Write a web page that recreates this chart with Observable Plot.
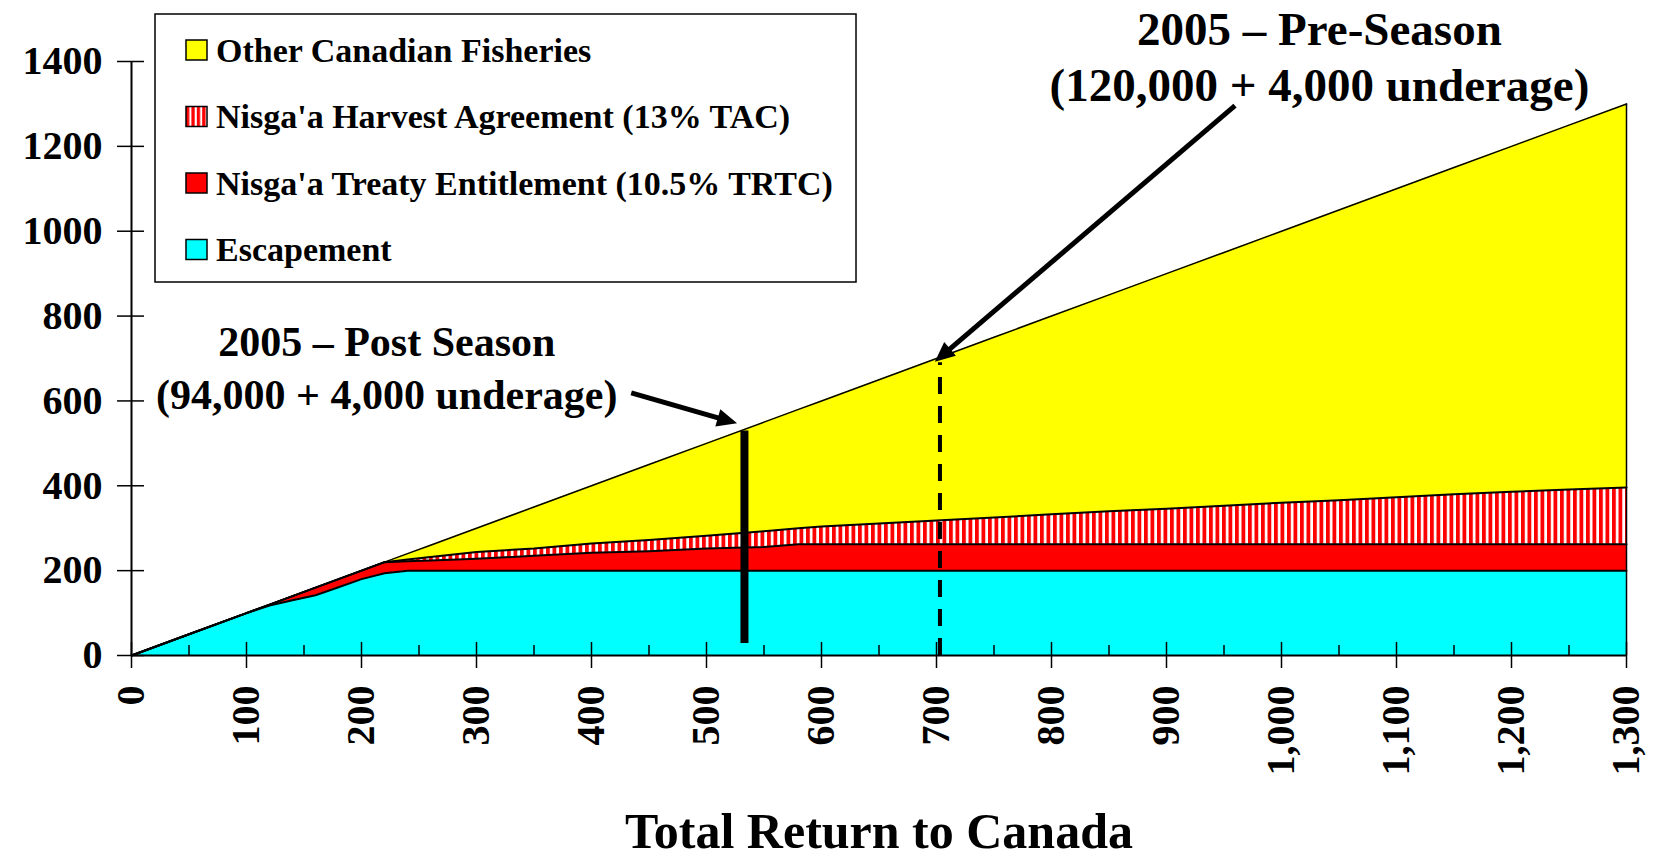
<!DOCTYPE html>
<html>
<head>
<meta charset="utf-8">
<script src="https://cdn.jsdelivr.net/npm/d3@7"></script>
<script src="https://cdn.jsdelivr.net/npm/@observablehq/plot@0.6"></script>
<style>
  html, body { margin: 0; padding: 0; background: #fff; }
  #chart svg { display: block; }
</style>
</head>
<body>
<div id="chart"></div>
<script>
// ---- Data (thousands of fish) ----
const totalReturn = [0, 50, 100, 120, 140, 160, 180, 200, 220, 240, 260, 300, 350, 400, 450, 500, 550, 580, 600, 650, 700, 750, 800, 850, 900, 950, 1000, 1050, 1100, 1150, 1200, 1250, 1300];
const escapement = [0, 50, 100, 118, 130, 142, 161, 180, 194, 200, 200, 200, 200, 200, 200, 200, 200, 200, 200, 200, 200, 200, 200, 200, 200, 200, 200, 200, 200, 200, 200, 200, 200];
const treatyEntitlement = [0, 0, 0, 2, 10, 18, 19, 20, 26, 22, 24, 28, 35, 42, 46, 52, 56, 62, 62, 62, 62, 62, 62, 62, 62, 62, 62, 62, 62, 62, 62, 62, 62];
const harvestAgreement = [0, 0, 0, 0, 0, 0, 0, 0, 0, 4, 8, 16, 17, 22, 26, 30, 37, 38, 42, 49, 56, 63, 71, 78, 84, 91, 98, 104, 111, 118, 124, 129, 134];
const otherFisheries = [0, 0, 0, 0, 0, 0, 0, 0, 0, 14, 28, 56, 98, 136, 178, 218, 257, 280, 296, 339, 382, 425, 467, 510, 554, 597, 640, 684, 727, 770, 814, 859, 904];

const seriesNames = ["Other Canadian Fisheries", "Nisga'a Harvest Agreement (13% TAC)", "Nisga'a Treaty Entitlement (10.5% TRTC)", "Escapement"];
const seriesFills = ["#ffff00", "url(#legendStripes)", "#ff0000", "#00ffff"];

const xTicks = [0, 100, 200, 300, 400, 500, 600, 700, 800, 900, 1000, 1100, 1200, 1300];
const xMinorTicks = [50, 150, 250, 350, 450, 550, 650, 750, 850, 950, 1050, 1150, 1250];
const yTicks = [0, 200, 400, 600, 800, 1000, 1200, 1400];

const postSeasonReturn = 533;   // solid marker
const preSeasonReturn = 703;    // dashed marker
const postSeasonLabel = ["2005 – Post Season", "(94,000 + 4,000 underage)"];
const preSeasonLabel = ["2005 – Pre-Season", "(120,000 + 4,000 underage)"];
const axisTitle = "Total Return to Canada";

// ---- Build stacked table ----
const rows = totalReturn.map((x, i) => {
  const e = escapement[i];
  const t = e + treatyEntitlement[i];
  const h = t + harvestAgreement[i];
  const o = h + otherFisheries[i];
  return {x, e, t, h, o};
});

const W = 1658, H = 858, mL = 131, mR = 32, mT = 61, mB = 203;
const fw = W - mL - mR, fh = H - mT - mB;
const FONT = "'Liberation Serif', 'Times New Roman', serif";

const plot = Plot.plot({
  width: W, height: H,
  marginLeft: mL, marginRight: mR, marginTop: mT, marginBottom: mB,
  x: {domain: [0, 1300]},
  y: {domain: [0, 1400]},
  style: {fontFamily: FONT, fontWeight: "bold", color: "#000", background: "#fff", overflow: "visible"},
  marks: [
    Plot.areaY(rows, {x: "x", y1: 0, y2: "e", fill: "#00ffff"}),
    Plot.areaY(rows, {x: "x", y1: "e", y2: "t", fill: "#ff0000"}),
    Plot.areaY(rows, {x: "x", y1: "t", y2: "h", fill: "url(#nisgaStripes)"}),
    Plot.areaY(rows, {x: "x", y1: "h", y2: "o", fill: "#ffff00"}),
    Plot.line(rows, {x: "x", y: "e", stroke: "#000", strokeWidth: 2}),
    Plot.line(rows, {x: "x", y: "t", stroke: "#000", strokeWidth: 2}),
    Plot.line(rows, {x: "x", y: "h", stroke: "#000", strokeWidth: 2}),
    Plot.line(rows, {x: "x", y: "o", stroke: "#000", strokeWidth: 1.5}),
    Plot.ruleX([rows[rows.length - 1]], {x: "x", y1: 0, y2: "o", stroke: "#000", strokeWidth: 1.5}),
    // axis lines
    Plot.ruleY([0], {stroke: "#000", strokeWidth: 2}),
    Plot.ruleX([0], {stroke: "#000", strokeWidth: 2}),
    // crossing ticks
    Plot.tickX(xTicks, {x: d => d, insetTop: fh - 13, insetBottom: -13, stroke: "#000", strokeWidth: 1.5}),
    Plot.tickX(xMinorTicks, {x: d => d, insetTop: fh - 10, insetBottom: 0, stroke: "#000", strokeWidth: 1.5}),
    Plot.tickY(yTicks, {y: d => d, insetLeft: -14, insetRight: fw - 13, stroke: "#000", strokeWidth: 1.5}),
    // tick labels
    Plot.axisY({ticks: yTicks, tickSize: 0, tickPadding: 29, fontSize: 40, label: null, tickFormat: d => String(d)}),
    Plot.axisX({ticks: xTicks, tickSize: 0, tickPadding: 30, tickRotate: -90, tickFormat: d3.format(","), fontSize: 40, label: null}),
    Plot.text([axisTitle], {frameAnchor: "bottom", text: d => d, dy: 176, lineAnchor: "middle", fontSize: 50, fill: "#000"}),
    // season markers
    Plot.ruleX([postSeasonReturn], {y1: 28, y2: 529, stroke: "#000", strokeWidth: 8}),
    Plot.ruleX([preSeasonReturn], {y1: 0, y2: 690, stroke: "#000", strokeWidth: 4, strokeDasharray: "17,12"}),
    // annotation text
    Plot.text([postSeasonLabel.join("\n")], {x: 222, y: 684, text: d => d, fontSize: 42, lineHeight: 1.26, fill: "#000"}),
    Plot.text([preSeasonLabel.join("\n")], {x: 1033, y: 1416, text: d => d, fontSize: 47, lineHeight: 1.19, fill: "#000"})
  ]
});

const svg = d3.select(plot);
svg.insert("defs", ":first-child").html(
  `<pattern id="nisgaStripes" patternUnits="userSpaceOnUse" width="6.5" height="10">
     <rect width="6.5" height="10" fill="#fff"/><rect width="3.8" height="10" fill="#ff0000"/>
   </pattern>
   <pattern id="legendStripes" patternUnits="userSpaceOnUse" x="186" width="5.4" height="10">
     <rect width="5.4" height="10" fill="#fff"/><rect width="3.3" height="10" fill="#ff0000"/>
   </pattern>`
);

// arrows (data coordinates through the plot's scales)
const sx = plot.scale("x"), sy = plot.scale("y");
const arrows = [
  {from: [435, 618], to: [527, 546]},
  {from: [960, 1295], to: [699, 691]}
];
const ag = svg.append("g");
arrows.forEach(a => {
  const x1 = sx.apply(a.from[0]), y1 = sy.apply(a.from[1]);
  const x2 = sx.apply(a.to[0]), y2 = sy.apply(a.to[1]);
  const dx = x2 - x1, dy = y2 - y1, len = Math.hypot(dx, dy);
  const ux = dx / len, uy = dy / len;
  const hl = 20, hw = 9;
  const bx = x2 - ux * hl, by = y2 - uy * hl;
  ag.append("line").attr("x1", x1).attr("y1", y1).attr("x2", bx + ux * 2).attr("y2", by + uy * 2)
    .attr("stroke", "#000").attr("stroke-width", 5);
  ag.append("polygon").attr("points", `${x2},${y2} ${bx - uy * hw},${by + ux * hw} ${bx + uy * hw},${by - ux * hw}`)
    .attr("fill", "#000");
});

// legend
const lg = svg.append("g").attr("font-family", FONT).attr("font-weight", "bold").attr("text-anchor", "start");
lg.append("rect").attr("x", 155).attr("y", 14).attr("width", 701).attr("height", 268)
  .attr("fill", "#fff").attr("stroke", "#000").attr("stroke-width", 1.5);
seriesNames.forEach((name, i) => {
  const cy = 50 + i * 66.5;
  lg.append("rect").attr("x", 186).attr("y", cy - 10).attr("width", 21).attr("height", 20)
    .attr("fill", seriesFills[i]).attr("stroke", "#000").attr("stroke-width", 1.5);
  lg.append("text").attr("x", 216).attr("y", cy).attr("dy", "0.35em").attr("font-size", 34)
    .attr("text-anchor", "start").attr("fill", "#000").text(name);
});

document.getElementById("chart").appendChild(plot);
</script>
</body>
</html>
